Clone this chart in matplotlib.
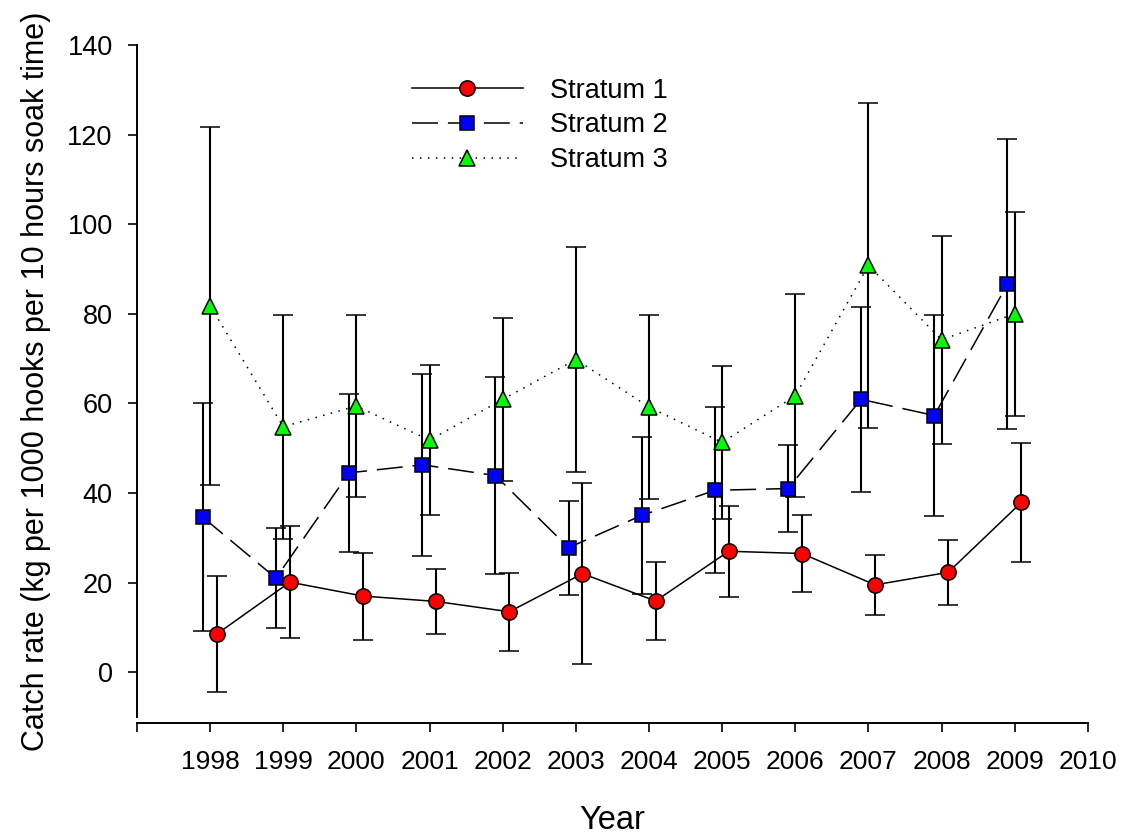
import matplotlib
matplotlib.use("Agg")
import matplotlib.pyplot as plt
from matplotlib.lines import Line2D

plt.rcParams['font.family'] = ['Liberation Sans', 'DejaVu Sans']

years = [1998, 1999, 2000, 2001, 2002, 2003, 2004, 2005, 2006, 2007, 2008, 2009]

# mean catch rate and error (half-width of bars)
s1_mean = [8.5, 20.1, 17.0, 15.8, 13.5, 22.0, 15.9, 27.0, 26.5, 19.5, 22.3, 37.9]
s1_err = [13.0, 12.5, 9.7, 7.3, 8.7, 20.2, 8.7, 10.2, 8.5, 6.7, 7.2, 13.2]

s2_mean = [34.6, 21.0, 44.5, 46.3, 43.9, 27.8, 35.0, 40.6, 41.0, 60.9, 57.3, 86.6]
s2_err = [25.4, 11.1, 17.7, 20.3, 21.9, 10.5, 17.6, 18.5, 9.8, 20.6, 22.5, 32.4]

s3_mean = [81.8, 54.8, 59.4, 51.8, 60.9, 69.8, 59.2, 51.3, 61.7, 90.8, 74.2, 80.0]
s3_err = [40.0, 25.0, 20.3, 16.8, 18.2, 25.1, 20.6, 17.1, 22.7, 36.2, 23.2, 22.8]

labels = ['Stratum 1', 'Stratum 2', 'Stratum 3']
tick_years = list(range(1997, 2011))

fig = plt.figure(figsize=(11.31, 8.36), dpi=100)
ax = fig.add_axes([0.1211, 0.1423, 0.8408, 0.8039])

lw = 1.1
styles = [
    dict(linestyle='-', marker='o', markersize=11, markerfacecolor='#ff0000'),
    dict(linestyle=(0, (17, 6.5)), marker='s', markersize=10.5, markerfacecolor='#0000ff'),
    dict(linestyle=(0, (1, 4.2)), marker='^', markersize=12, markerfacecolor='#00ff00'),
]
shift = [0.09, -0.10, 0.0]
means = [s1_mean, s2_mean, s3_mean]
errs = [s1_err, s2_err, s3_err]

for i in [2, 1, 0]:
    xs = [y + shift[i] for y in years]
    ax.errorbar(xs, means[i], yerr=errs[i], color='black', lw=lw,
                markeredgecolor='black', markeredgewidth=1.1, ecolor='black',
                elinewidth=1.5, capsize=7.5, capthick=1.5, zorder=4 - i, **styles[i])

ax.set_xlim(1997, 2010)
ax.set_ylim(-10, 140)
ax.set_yticks(range(0, 141, 20))
ax.set_xticks(tick_years)
ax.set_xticklabels([''] + [str(y) for y in tick_years[1:]])

ax.spines['top'].set_visible(False)
ax.spines['right'].set_visible(False)
ax.spines['bottom'].set_position(('outward', 4.3))
for sp in ['left', 'bottom']:
    ax.spines[sp].set_linewidth(1.4)

ax.tick_params(axis='y', direction='out', length=6.5, width=1.2, pad=11, labelsize=19.5)
ax.tick_params(axis='x', direction='out', length=6.5, width=1.2, pad=13, labelsize=19)

ax.set_xlabel('Year', fontsize=23.5, labelpad=22)
ax.set_ylabel('Catch rate (kg per 1000 hooks per 10 hours soak time)', fontsize=22, labelpad=12)

handles = [Line2D([], [], color='black', lw=lw, markeredgecolor='black',
                  markeredgewidth=1.1, **st) for st in styles]
ax.legend(handles, labels, loc='upper left', bbox_to_anchor=(398 / 1131, 1 - 64 / 836),
          bbox_transform=fig.transFigure, frameon=False, fontsize=19.5,
          handlelength=4.1, handletextpad=1.0, labelspacing=0.33, borderpad=0)

fig.savefig('out.png', dpi=100)
